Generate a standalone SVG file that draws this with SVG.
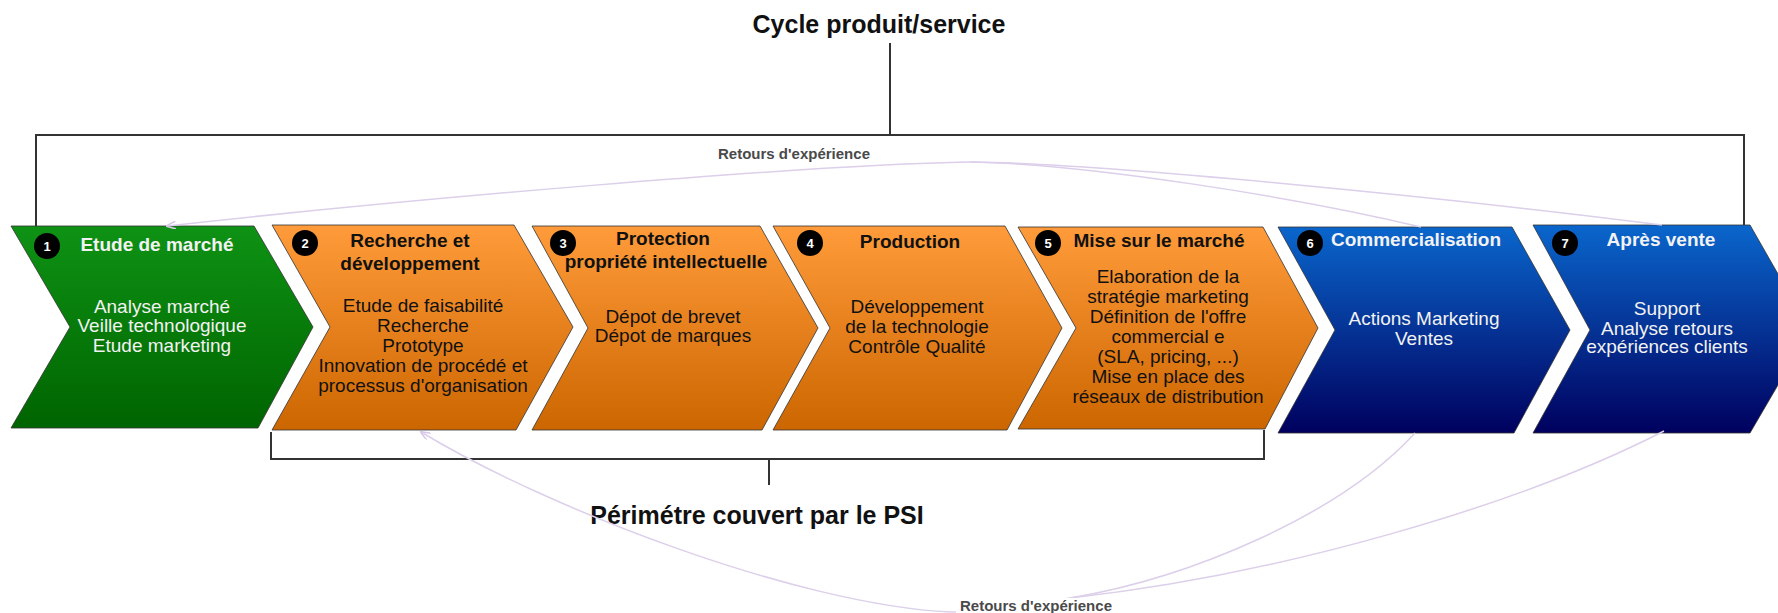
<svg xmlns="http://www.w3.org/2000/svg" width="1778" height="613" viewBox="0 0 1778 613">
<defs>
<linearGradient id="gGreen" x1="0" y1="0" x2="0" y2="1"><stop offset="0" stop-color="#0e9214"/><stop offset="1" stop-color="#006400"/></linearGradient>
<linearGradient id="gOrange" x1="0" y1="0" x2="0" y2="1"><stop offset="0" stop-color="#ff9b3a"/><stop offset="1" stop-color="#cc6600"/></linearGradient>
<linearGradient id="gBlue" x1="0" y1="0" x2="0" y2="1"><stop offset="0" stop-color="#0a66cc"/><stop offset="1" stop-color="#00005e"/></linearGradient>
<marker id="arr" viewBox="0 0 10 8" refX="9" refY="4" markerWidth="10" markerHeight="8" markerUnits="userSpaceOnUse" orient="auto">
<path d="M0,0 L10,4 L0,8" fill="none" stroke="#d6c8e6" stroke-width="1.5"/>
</marker>
<style>
.chev{stroke:#333;stroke-width:0.8}
.num{fill:#000}
.numt{font-family:"Liberation Sans",Arial,sans-serif;font-weight:bold;font-size:13px;fill:#fff;text-anchor:middle}
.tt{font-family:"Liberation Sans",Arial,sans-serif;font-weight:bold;font-size:19px;text-anchor:middle}
.bd{font-family:"Liberation Sans",Arial,sans-serif;font-size:19px;text-anchor:middle}
.w{fill:#f2f2f2}
.k{fill:#111}
.br{fill:none;stroke:#333;stroke-width:2}
.fb{fill:none;stroke:#dccfea;stroke-width:1.5}
.lbl{font-family:"Liberation Sans",Arial,sans-serif;font-weight:bold;font-size:15px;fill:#4a4a4a;text-anchor:middle}
.big{font-family:"Liberation Sans",Arial,sans-serif;font-weight:bold;font-size:25px;fill:#111;text-anchor:middle}
</style>
</defs>
<rect width="1778" height="613" fill="#fff"/>

<g id="brackets">
<path class="br" d="M890,43 V135"/>
<path class="br" d="M36,226 V135 H1744 V225"/>
<path class="br" d="M271,432 V459 H1264 V430"/>
<path class="br" d="M769,459 V485"/>
</g>

<text class="big" x="879" y="33">Cycle produit/service</text>
<text class="big" x="757" y="524">Périmétre couvert par le PSI</text>

<g id="n1">
<path class="chev" fill="url(#gGreen)" d="M11,226 L254,226 L313,327 L258,428 L11,428 L70,327 Z"/>
<circle class="num" cx="47" cy="246" r="13"/><text class="numt" x="47" y="251">1</text>
<text class="tt w" x="157" y="251">Etude de marché</text>
<text class="bd w" x="162" y="313">Analyse marché</text>
<text class="bd w" x="162" y="332">Veille technologique</text>
<text class="bd w" x="162" y="352">Etude marketing</text>
</g>

<g id="n2">
<path class="chev" fill="url(#gOrange)" d="M272,225 L514,225 L573,327 L516,430 L272,430 L330,327 Z"/>
<circle class="num" cx="305" cy="243" r="13"/><text class="numt" x="305" y="248">2</text>
<text class="tt k" x="410" y="247">Recherche et</text>
<text class="tt k" x="410" y="270">développement</text>
<text class="bd k" x="423" y="312">Etude de faisabilité</text>
<text class="bd k" x="423" y="332">Recherche</text>
<text class="bd k" x="423" y="352">Prototype</text>
<text class="bd k" x="423" y="372">Innovation de procédé et</text>
<text class="bd k" x="423" y="392">processus d'organisation</text>
</g>

<g id="n3">
<path class="chev" fill="url(#gOrange)" d="M532,226 L760,226 L818,328 L762,430 L532,430 L588,328 Z"/>
<circle class="num" cx="563" cy="243" r="13"/><text class="numt" x="563" y="248">3</text>
<text class="tt k" x="663" y="245">Protection</text>
<text class="tt k" x="666" y="268">propriété intellectuelle</text>
<text class="bd k" x="673" y="323">Dépot de brevet</text>
<text class="bd k" x="673" y="342">Dépot de marques</text>
</g>

<g id="n4">
<path class="chev" fill="url(#gOrange)" d="M773,226 L1005,226 L1062,328 L1007,430 L773,430 L830,328 Z"/>
<circle class="num" cx="810" cy="243" r="13"/><text class="numt" x="810" y="248">4</text>
<text class="tt k" x="910" y="248">Production</text>
<text class="bd k" x="917" y="313">Développement</text>
<text class="bd k" x="917" y="333">de la technologie</text>
<text class="bd k" x="917" y="353">Contrôle Qualité</text>
</g>

<g id="n5">
<path class="chev" fill="url(#gOrange)" d="M1018,227 L1263,227 L1318,328 L1265,429 L1018,429 L1076,328 Z"/>
<circle class="num" cx="1048" cy="243" r="13"/><text class="numt" x="1048" y="248">5</text>
<text class="tt k" x="1159" y="247">Mise sur le marché</text>
<text class="bd k" x="1168" y="283">Elaboration de la</text>
<text class="bd k" x="1168" y="303">stratégie marketing</text>
<text class="bd k" x="1168" y="323">Définition de l'offre</text>
<text class="bd k" x="1168" y="343">commercial e</text>
<text class="bd k" x="1168" y="363">(SLA, pricing, ...)</text>
<text class="bd k" x="1168" y="383">Mise en place des</text>
<text class="bd k" x="1168" y="403">réseaux de distribution</text>
</g>

<g id="n6">
<path class="chev" fill="url(#gBlue)" d="M1278,227 L1512,227 L1570,330 L1514,433 L1278,433 L1335,330 Z"/>
<circle class="num" cx="1310" cy="243" r="13"/><text class="numt" x="1310" y="248">6</text>
<text class="tt w" x="1416" y="246">Commercialisation</text>
<text class="bd w" x="1424" y="325">Actions Marketing</text>
<text class="bd w" x="1424" y="345">Ventes</text>
</g>

<g id="n7">
<path class="chev" fill="url(#gBlue)" d="M1533,225 L1750,225 L1810,330 L1750,433 L1533,433 L1590,330 Z"/>
<circle class="num" cx="1565" cy="243" r="13"/><text class="numt" x="1565" y="248">7</text>
<text class="tt w" x="1661" y="246">Après vente</text>
<text class="bd w" x="1667" y="315">Support</text>
<text class="bd w" x="1667" y="335">Analyse retours</text>
<text class="bd w" x="1667" y="353">expériences clients</text>
</g>

<g id="connectors">
<path class="fb" d="M1421,227 C1300,198 1090,164 970,162"/>
<path class="fb" d="M1662,225 C1450,198 1100,163 970,162"/>
<path class="fb" d="M970,162 C800,165 400,200 167,226" marker-end="url(#arr)"/>
<path class="fb" d="M1415,433 C1340,515 1190,578 1070,598"/>
<path class="fb" d="M1664,431 C1520,505 1280,575 1070,598"/>
<path class="fb" d="M1070,598 C1010,608 980,613 950,612 C800,605 550,510 421,432" marker-end="url(#arr)"/>
</g>

<rect x="956" y="598" width="160" height="15" fill="#fff"/>
<text class="lbl" x="794" y="159">Retours d'expérience</text>
<text class="lbl" x="1036" y="611">Retours d'expérience</text>
</svg>
